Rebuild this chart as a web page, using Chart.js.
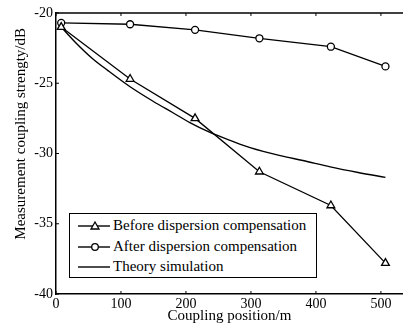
<!DOCTYPE html>
<html>
<head>
<meta charset="utf-8">
<script src="https://cdn.jsdelivr.net/npm/chart.js@4.4.1/dist/chart.umd.min.js"></script>
<style>
    html, body { margin: 0; padding: 0; background: #fff; }
    #wrap { position: relative; width: 403px; height: 329px; overflow: hidden; }
    #legend {
        position: absolute; left: 69px; top: 213px; width: 246px; height: 63px;
        border: 1px solid #000; background: #fff;
        font-family: 'Liberation Serif', 'DejaVu Serif', serif; font-size: 15px; color: #000;
    }
    .row { position: absolute; left: 0; height: 20px; line-height: 20px; white-space: nowrap; }
    .row svg { position: absolute; left: 7px; top: 0; }
    .row span { position: absolute; left: 43px; top: -1px; }
</style>
</head>
<body>
<div id="wrap">
    <canvas id="chart" width="403" height="329"></canvas>
    <div id="legend"></div>
</div>
<script>
document.addEventListener('DOMContentLoaded', function() {
    // positions along the fibre (m)
    const positions = [8, 114, 214, 313, 423, 507];
    const beforeComp = [-21.0, -24.7, -27.5, -31.3, -33.7, -37.8];
    const afterComp = [-20.7, -20.8, -21.2, -21.8, -22.4, -23.8];

    // theory curve
    const theoryX = [8, 30, 55, 80, 114, 150, 180, 206, 237, 270, 300, 345, 380, 422, 465, 507];
    const theoryY = [-21.0, -22.1, -23.2, -24.1, -25.25, -26.3, -27.1, -27.8, -28.5, -29.1, -29.6, -30.15, -30.5, -30.95, -31.35, -31.7];

    const xTicks = [0, 100, 200, 300, 400, 500];
    const yTicks = [-40, -35, -30, -25, -20];

    const seriesNames = ['Before dispersion compensation', 'After dispersion compensation', 'Theory simulation'];
    const yTitle = 'Measurement coupling strengty/dB';

    const font = "'Liberation Serif', 'DejaVu Serif', serif";

    // MATLAB-like frame: top line, inward ticks, and the y label (sits a bit above centre in the original)
    const framePlugin = {
        id: 'frame',
        afterDraw(chart) {
            const ctx = chart.ctx;
            const area = chart.chartArea;
            const xs = chart.scales.x;
            const ys = chart.scales.y;
            ctx.save();
            ctx.strokeStyle = '#000';
            ctx.lineWidth = 1.5;
            ctx.beginPath();
            ctx.moveTo(area.left, area.top);
            ctx.lineTo(area.right, area.top);
            ctx.stroke();
            ctx.lineWidth = 1;
            ctx.beginPath();
            xTicks.forEach(v => {
                const px = xs.getPixelForValue(v);
                ctx.moveTo(px, area.bottom);
                ctx.lineTo(px, area.bottom - 3);
                ctx.moveTo(px, area.top);
                ctx.lineTo(px, area.top + 3);
            });
            yTicks.forEach(v => {
                const py = ys.getPixelForValue(v);
                ctx.moveTo(area.left, py);
                ctx.lineTo(area.left + 3, py);
            });
            ctx.stroke();

            ctx.translate(21, ys.getPixelForValue(-28.6));
            ctx.rotate(-Math.PI / 2);
            ctx.fillStyle = '#000';
            ctx.font = '15px ' + font;
            ctx.textAlign = 'center';
            ctx.textBaseline = 'middle';
            ctx.fillText(yTitle, 0, 0);
            ctx.restore();
        }
    };

    const ctx = document.getElementById('chart').getContext('2d');
    new Chart(ctx, {
        type: 'line',
        data: {
            datasets: [{
                label: seriesNames[0],
                data: positions.map((x, i) => ({ x: x, y: beforeComp[i] })),
                borderColor: '#000',
                borderWidth: 1.3,
                pointStyle: 'triangle',
                pointRadius: 4.5,
                pointBorderWidth: 1.3,
                pointBorderColor: '#000',
                pointBackgroundColor: '#fff',
                tension: 0
            }, {
                label: seriesNames[1],
                data: positions.map((x, i) => ({ x: x, y: afterComp[i] })),
                borderColor: '#000',
                borderWidth: 1.3,
                pointStyle: 'circle',
                pointRadius: 3.5,
                pointBorderWidth: 1.3,
                pointBorderColor: '#000',
                pointBackgroundColor: '#fff',
                tension: 0
            }, {
                label: seriesNames[2],
                data: theoryX.map((x, i) => ({ x: x, y: theoryY[i] })),
                borderColor: '#000',
                borderWidth: 1.4,
                pointRadius: 0,
                cubicInterpolationMode: 'monotone'
            }]
        },
        options: {
            responsive: false,
            animation: false,
            layout: { autoPadding: false, padding: { top: 13, right: 0, left: 0, bottom: 0 } },
            plugins: {
                legend: { display: false },
                tooltip: { enabled: false }
            },
            scales: {
                x: {
                    type: 'linear',
                    min: 0,
                    max: 534,
                    grid: { display: false, drawTicks: false },
                    border: { display: true, color: '#000', width: 1.5 },
                    ticks: {
                        stepSize: 100,
                        includeBounds: false,
                        padding: 2,
                        color: '#000',
                        maxRotation: 0,
                        font: { family: font, size: 14 }
                    },
                    title: {
                        display: true,
                        text: 'Coupling position/m',
                        color: '#000',
                        padding: { top: 0, bottom: 4 },
                        font: { family: font, size: 15 }
                    },
                    afterFit(scale) { scale.height = 35; }
                },
                y: {
                    min: -40,
                    max: -20,
                    grid: { display: false, drawTicks: false },
                    border: { display: true, color: '#000', width: 1.5 },
                    ticks: {
                        stepSize: 5,
                        padding: 3,
                        color: '#000',
                        font: { family: font, size: 14 }
                    },
                    afterFit(scale) { scale.width = 56; }
                }
            }
        },
        plugins: [framePlugin]
    });

    // legend box inside the plot, like the original
    const legend = document.getElementById('legend');
    const markers = [
        '<polygon points="18,6 14,13 22,13" fill="#fff" stroke="#000" stroke-width="1.3"/>',
        '<circle cx="18" cy="10" r="3.3" fill="#fff" stroke="#000" stroke-width="1.3"/>',
        ''
    ];
    seriesNames.forEach((name, i) => {
        const row = document.createElement('div');
        row.className = 'row';
        row.style.top = (2 + i * 20.5) + 'px';
        row.innerHTML = '<svg width="34" height="20"><line x1="1" y1="10" x2="33" y2="10" stroke="#000" stroke-width="1.4"/>' +
            markers[i] + '</svg><span>' + name + '</span>';
        legend.appendChild(row);
    });
});
</script>
</body>
</html>
